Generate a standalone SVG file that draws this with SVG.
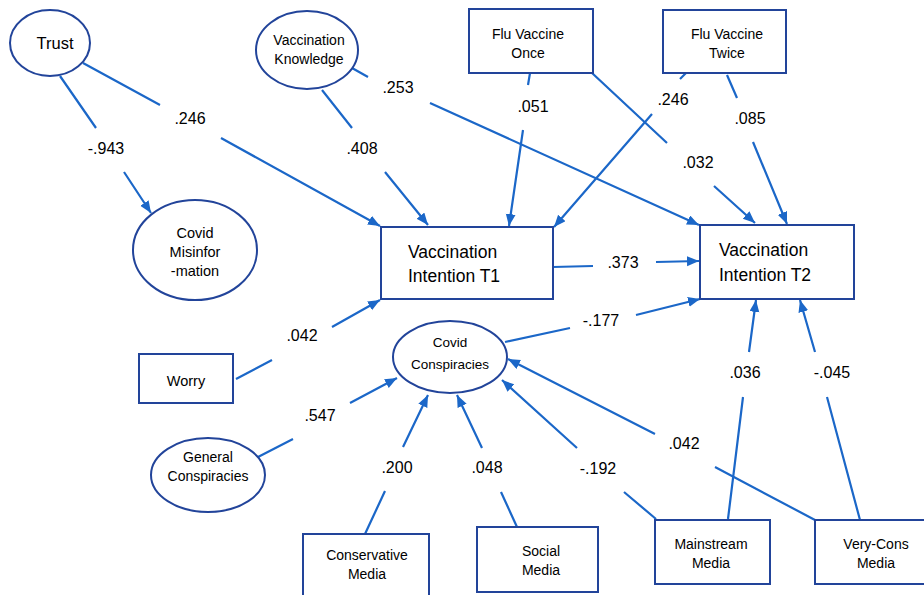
<svg xmlns="http://www.w3.org/2000/svg" width="924" height="595" viewBox="0 0 924 595">
<defs>
<marker id="ah" markerUnits="userSpaceOnUse" markerWidth="13" markerHeight="11" refX="12" refY="5" orient="auto">
<path d="M0,0 L12,5 L0,10 z" fill="#1b67c8"/>
</marker>
<style>
.n{fill:#fff;stroke:#22449a;stroke-width:2}
.t{font-family:"Liberation Sans",Arial,sans-serif;fill:#000;text-anchor:middle}
.s{text-anchor:start}
.e{fill:none;stroke:#1b67c8;stroke-width:2.2;marker-end:url(#ah)}
.l{font-family:"Liberation Sans",Arial,sans-serif;font-size:16px;fill:#000;text-anchor:middle}
</style>
</defs>
<rect width="924" height="595" fill="#fff"/>
<g id="connectors">
<path class="e" d="M60,76 L96,128 M124,172 L151,213"/>
<path class="e" d="M83,63 L160,105 M221,138 L380,226"/>
<path class="e" d="M322,90 L352,128 M385,172 L428,225"/>
<path class="e" d="M352,68 L368,77 M430,103 L699,225"/>
<path class="e" d="M530,73 L528,85 M523,130 L509,226"/>
<path class="e" d="M592,73 L667,143 M714,186 L755,223"/>
<path class="e" d="M686,73 L680,79 M652,114 L554,227"/>
<path class="e" d="M727,75 L737,98 M753,142 L787,224"/>
<path class="e" d="M553,267 L593,266 M656,262 L699,261"/>
<path class="e" d="M505,342 L570,328 M636,315 L700,299"/>
<path class="e" d="M236,379 L272,360 M332,327 L380,300"/>
<path class="e" d="M258,457 L293,439 M350,403 L397,378"/>
<path class="e" d="M365,534 L385,491 M403,447 L428,395"/>
<path class="e" d="M517,527 L501,492 M482,448 L457,395"/>
<path class="e" d="M656,519 L624,492 M577,448 L502,380"/>
<path class="e" d="M815,520 L715,467 M655,434 L508,359"/>
<path class="e" d="M728,519 L743,397 M749,352 L756,300"/>
<path class="e" d="M860,520 L827,397 M815,352 L800,300"/>
<text class="l" x="106" y="154">-.943</text>
<text class="l" x="190" y="124">.246</text>
<text class="l" x="362" y="154">.408</text>
<text class="l" x="398" y="93">.253</text>
<text class="l" x="533" y="112">.051</text>
<text class="l" x="698" y="168">.032</text>
<text class="l" x="673" y="105">.246</text>
<text class="l" x="750" y="124">.085</text>
<text class="l" x="623" y="268">.373</text>
<text class="l" x="601" y="326">-.177</text>
<text class="l" x="302" y="341">.042</text>
<text class="l" x="320" y="421">.547</text>
<text class="l" x="397" y="473">.200</text>
<text class="l" x="487" y="473">.048</text>
<text class="l" x="598" y="474">-.192</text>
<text class="l" x="684" y="449">.042</text>
<text class="l" x="745" y="378">.036</text>
<text class="l" x="832" y="378">-.045</text>
</g>
<g id="trust"><ellipse class="n" cx="50" cy="43" rx="40" ry="33"/><text class="t" x="55" y="49" font-size="16.5">Trust</text></g>
<g id="vacc-knowledge"><ellipse class="n" cx="307" cy="50" rx="51" ry="39"/><text class="t" x="309" y="45" font-size="14">Vaccination</text><text class="t" x="309" y="64" font-size="14">Knowledge</text></g>
<g id="flu-once"><rect class="n" x="469" y="9" width="124" height="64"/><text class="t" x="528" y="39" font-size="14">Flu Vaccine</text><text class="t" x="528" y="58" font-size="14">Once</text></g>
<g id="flu-twice"><rect class="n" x="663" y="10" width="123" height="63"/><text class="t" x="727" y="39" font-size="14">Flu Vaccine</text><text class="t" x="727" y="58" font-size="14">Twice</text></g>
<g id="covid-misinfo"><ellipse class="n" cx="195" cy="250" rx="62" ry="50"/><text class="t" x="195" y="238" font-size="14.5">Covid</text><text class="t" x="195" y="257" font-size="14.5">Misinfor</text><text class="t" x="195" y="276" font-size="14.5">-mation</text></g>
<g id="vi-t1"><rect class="n" x="381" y="227" width="172" height="72"/><text class="t s" x="408" y="258" font-size="17.5">Vaccination</text><text class="t s" x="408" y="282" font-size="17.5">Intention T1</text></g>
<g id="vi-t2"><rect class="n" x="700" y="225" width="154" height="74"/><text class="t s" x="719" y="256" font-size="17.5">Vaccination</text><text class="t s" x="719" y="281" font-size="17.5">Intention T2</text></g>
<g id="covid-conspiracies"><ellipse class="n" cx="450" cy="357" rx="57" ry="36"/><text class="t" x="450" y="347" font-size="13.5">Covid</text><text class="t" x="450" y="369" font-size="13.5">Conspiracies</text></g>
<g id="worry"><rect class="n" x="139" y="354" width="94" height="49"/><text class="t" x="186" y="386" font-size="14.5">Worry</text></g>
<g id="general-conspiracies"><ellipse class="n" cx="208" cy="475" rx="57" ry="37"/><text class="t" x="208" y="462" font-size="14">General</text><text class="t" x="208" y="481" font-size="14">Conspiracies</text></g>
<g id="conservative-media"><rect class="n" x="303" y="534" width="126" height="70"/><text class="t" x="367" y="560" font-size="14">Conservative</text><text class="t" x="367" y="579" font-size="14">Media</text></g>
<g id="social-media"><rect class="n" x="477" y="527" width="121" height="65"/><text class="t" x="541" y="556" font-size="14">Social</text><text class="t" x="541" y="575" font-size="14">Media</text></g>
<g id="mainstream-media"><rect class="n" x="655" y="520" width="115" height="64"/><text class="t" x="711" y="549" font-size="14">Mainstream</text><text class="t" x="711" y="568" font-size="14">Media</text></g>
<g id="very-cons-media"><rect class="n" x="815" y="520" width="120" height="64"/><text class="t" x="876" y="549" font-size="14">Very-Cons</text><text class="t" x="876" y="568" font-size="14">Media</text></g>
</svg>
